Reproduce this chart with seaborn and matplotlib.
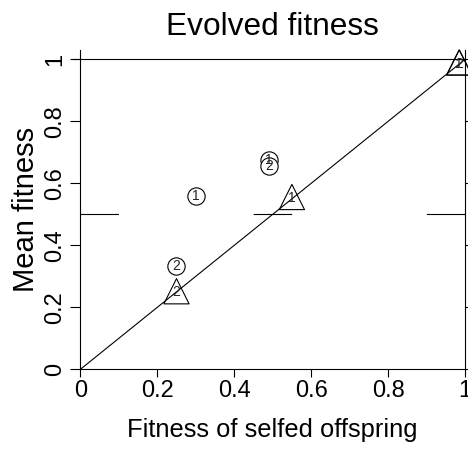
import matplotlib
matplotlib.use("Agg")
import matplotlib.pyplot as plt
import seaborn as sns
import pandas as pd
import numpy as np

# Data
selfed_fitness = [0.30, 0.25, 0.49, 0.49, 0.25, 0.55, 0.985, 0.985]
mean_fitness   = [0.558, 0.334, 0.676, 0.657, 0.252, 0.556, 0.99, 0.99]
point_labels   = ["1", "2", "1", "2", "2", "1", "1", "2"]
point_group    = ["circle", "circle", "circle", "circle", "triangle", "triangle", "triangle", "triangle"]
x_ticks = [0, 0.2, 0.4, 0.6, 0.8, 1]
y_ticks = [0, 0.2, 0.4, 0.6, 0.8, 1]
x_tick_labels = ["0", "0.2", "0.4", "0.6", "0.8", "1"]
y_tick_labels = ["0", "0.2", "0.4", "0.6", "0.8", "1"]

df = pd.DataFrame({"x": selfed_fitness, "y": mean_fitness,
                   "label": point_labels, "group": point_group})

sns.set_theme(style="white")
plt.rcParams['font.family'] = ['Liberation Sans', 'DejaVu Sans']
plt.rcParams['lines.scale_dashes'] = False

fig = plt.figure(figsize=(4.68, 4.51), dpi=100)
ax = fig.add_axes([0.1716, 0.181, 0.822, 0.708])

# reference lines
ax.plot([0, 1], [0, 1], color="black", lw=0.8, zorder=1)
ax.axhline(1.0, xmin=-0.02, xmax=1, color="black", lw=0.8, clip_on=False, zorder=1)
ax.plot([0, 1], [0.5, 0.5], color="black", lw=0.8, dashes=(27.7, 97.0), zorder=1)

circ = df[df.group == "circle"]
tri = df[df.group == "triangle"]
sns.scatterplot(data=circ, x="x", y="y", marker="o", s=155, facecolor="white",
                edgecolor="black", linewidth=0.8, ax=ax, zorder=3, clip_on=False)
sns.scatterplot(data=tri, x="x", y="y", marker="^", s=330, facecolor="none",
                edgecolor="black", linewidth=0.8, ax=ax, zorder=3, clip_on=False)
for _, r in df.iterrows():
    dy = 0 if r.group == "circle" else -0.004
    ax.text(r.x, r.y + dy, r.label, ha="center", va="center", fontsize=10, zorder=4)

ax.set_xlim(0, 1)
ax.set_ylim(0, 1.03)
ax.set_xticks(x_ticks)
ax.set_xticklabels(x_tick_labels, fontsize=17)
ax.set_yticks(y_ticks)
ax.set_yticklabels(y_tick_labels, fontsize=17, rotation=90, va="center")
ax.tick_params(axis="both", direction="out", length=6, width=0.8, color="black",
               left=True, bottom=True, pad=2, labelcolor="black")
ax.tick_params(axis="y", length=7, pad=3)
ax.tick_params(axis="y", which="both", right=True)
ax.set_xlabel("Fitness of selfed offspring", fontsize=18.4, labelpad=11, color="black")
ax.set_ylabel("Mean fitness", fontsize=21, labelpad=3, color="black")
ax.set_title("Evolved fitness", fontsize=22.8, pad=11, color="black")
for side in ["left", "bottom", "right"]:
    ax.spines[side].set_visible(True)
    ax.spines[side].set_color("black")
    ax.spines[side].set_linewidth(0.8)
ax.spines["top"].set_visible(False)
ax.grid(False)
fig.savefig("out.png", dpi=100)
